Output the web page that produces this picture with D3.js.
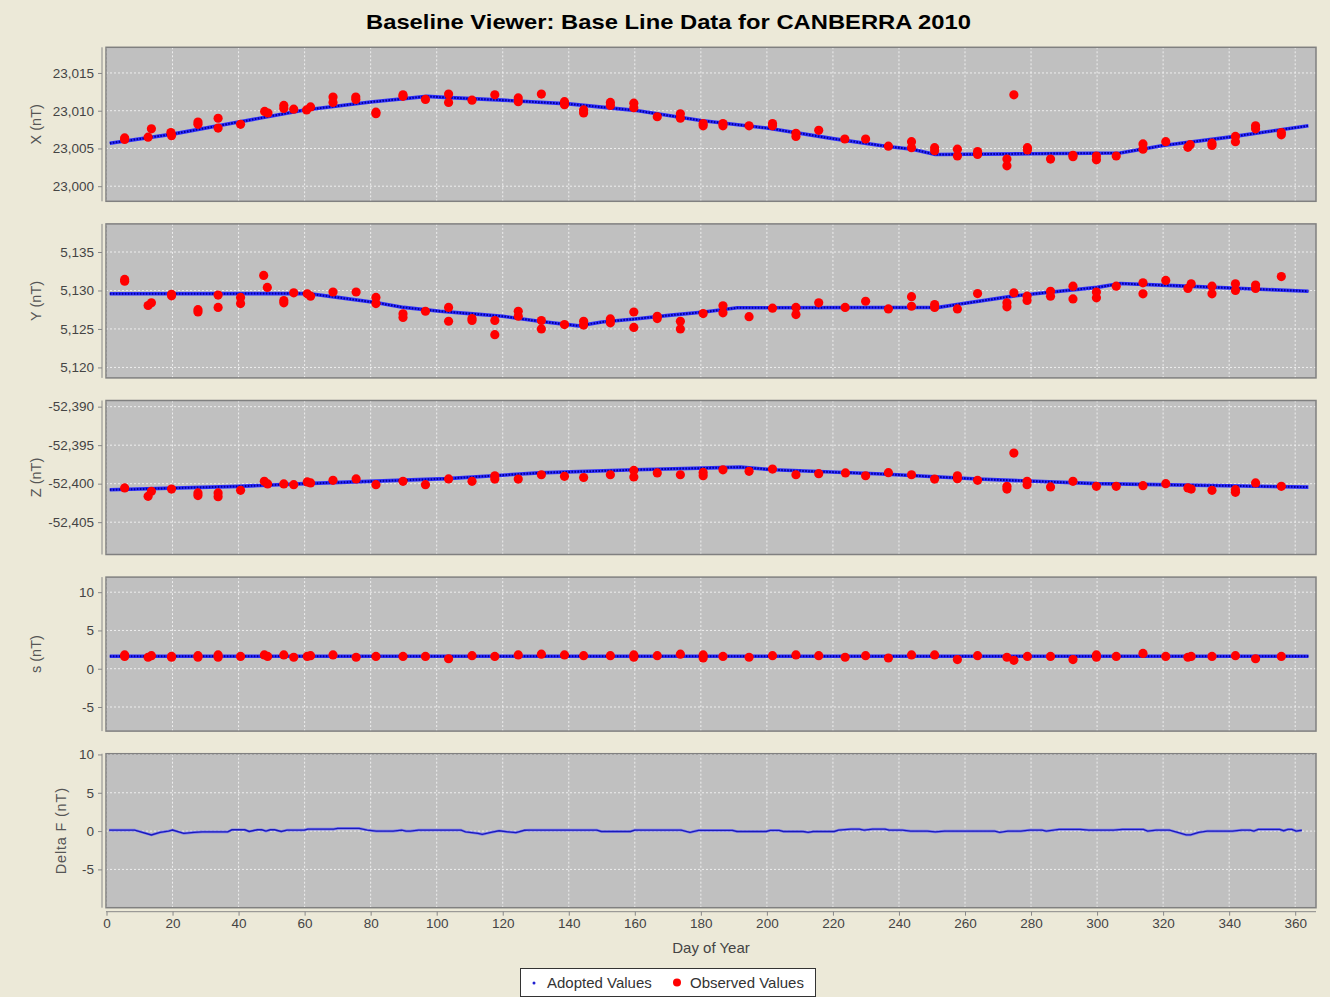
<!DOCTYPE html>
<html>
<head>
<meta charset="utf-8">
<script src="https://cdn.jsdelivr.net/npm/d3@7"></script>
<style>
  html, body { margin: 0; padding: 0; background: #ece9d8; }
  svg { display: block; }
  text { font-family: "Liberation Sans", Arial, sans-serif; }
</style>
</head>
<body>
<svg id="chart" width="1330" height="997"></svg>
<script>
// ---- data: day of year and values ----
const dayTicks = [0, 20, 40, 60, 80, 100, 120, 140, 160, 180, 200, 220, 240, 260, 280, 300, 320, 340, 360];

const panelNames = ["X (nT)", "Y (nT)", "Z (nT)", "s (nT)", "Delta F (nT)"];
const panelDomains = [[22998.0, 23018.4], [5118.64, 5138.65], [-52409.2, -52389.2], [-8.15, 11.97], [-10.0, 10.1]];
const panelTicks = [
  [23000, 23005, 23010, 23015],
  [5120, 5125, 5130, 5135],
  [-52405, -52400, -52395, -52390],
  [-5, 0, 5, 10],
  [-5, 0, 5, 10]
];

// adopted baseline values (day, value)
const adoptedX = [[1, 23005.7], [20, 23006.9], [40, 23008.5], [60, 23010.1], [80, 23011.15], [97, 23011.9], [101, 23011.8], [120, 23011.4], [140, 23010.9], [160, 23010.05], [180, 23008.7], [200, 23007.7], [220, 23006.3], [236, 23005.3], [244, 23004.9], [251, 23004.2], [280, 23004.3], [307, 23004.4], [320, 23005.4], [340, 23006.5], [364, 23008.0]];
const adoptedY = [[1, 5129.57], [61, 5129.6], [70, 5129.1], [82, 5128.4], [90, 5127.8], [101, 5127.3], [111, 5126.96], [120, 5126.65], [131, 5126.0], [143, 5125.4], [150, 5125.9], [160, 5126.3], [171, 5126.8], [181, 5127.2], [191, 5127.75], [252, 5127.8], [258, 5128.2], [275, 5129.3], [300, 5130.4], [307, 5130.9], [325, 5130.6], [364, 5129.9]];
const adoptedZ = [[1, -52400.8], [40, -52400.35], [60, -52400.0], [103, -52399.35], [131, -52398.6], [160, -52398.2], [192, -52397.85], [202, -52398.2], [235, -52398.75], [264, -52399.4], [300, -52400.0], [364, -52400.45]];
const adoptedS = [[1, 1.62], [120, 1.62], [240, 1.62], [364, 1.62]];

// baseline difference in F (day, value)
const deltaF = [[0.8, 0.13], [8.5, 0.13], [13.6, -0.5], [16.2, -0.17], [18.8, 0.0], [20, 0.13], [23.4, -0.3], [26.5, -0.17], [29, -0.1], [36.7, -0.1], [38, 0.17], [41.9, 0.17], [43.2, -0.05], [45.7, 0.17], [47, 0.17], [48.3, 0.0], [49.6, 0.17], [50.9, 0.17], [52.9, -0.05], [54.7, 0.13], [59.9, 0.13], [61, 0.26], [68.8, 0.26], [70, 0.35], [76.5, 0.35], [79, 0.13], [81.7, 0.0], [86.8, 0.0], [89.4, 0.13], [90.7, 0.0], [92, 0.0], [94.5, 0.13], [107.4, 0.13], [108.7, -0.1], [112.5, -0.3], [113.8, -0.43], [116.4, -0.17], [118.9, 0.04], [121.5, -0.1], [124, -0.2], [126.6, 0.1], [128, 0.13], [148.5, 0.13], [149.8, -0.05], [158.7, -0.05], [160, 0.13], [166.5, 0.13], [169, 0.13], [174, 0.13], [176.7, -0.17], [179.3, 0.09], [189.6, 0.09], [190.9, -0.05], [199.8, -0.05], [201, 0.09], [203.7, 0.09], [205, -0.05], [211, -0.05], [212.5, -0.17], [214, -0.05], [220.4, -0.05], [221.7, 0.13], [225.5, 0.26], [228, 0.26], [229.4, 0.13], [232, 0.26], [235.8, 0.26], [237, 0.13], [241, 0.13], [243.5, 0.0], [248.6, 0.0], [251, -0.1], [253.8, 0.0], [269, 0.0], [270.5, -0.17], [273, 0.0], [276.9, 0.0], [279.5, 0.13], [283.3, 0.13], [284.6, 0.0], [288.5, 0.22], [294.9, 0.22], [297.5, 0.13], [305, 0.13], [307.7, 0.22], [314, 0.22], [315.3, 0.0], [317.9, 0.13], [321.9, 0.13], [324.4, -0.17], [327, -0.5], [328.3, -0.5], [330.8, -0.17], [333.4, 0.0], [341, 0.0], [343.7, 0.13], [346.3, 0.13], [347.5, 0.0], [348.8, 0.22], [355.3, 0.22], [356.5, 0.04], [357.8, 0.22], [359, 0.22], [360.3, 0.0], [362, 0.1]];

// observed baseline values (day, value)
const obsX = [[5.5, 23006.4], [5.5, 23006.2], [12.6, 23006.5], [13.6, 23007.6], [19.5, 23007.1], [19.7, 23006.7], [27.7, 23008.5], [27.7, 23008.2], [33.8, 23009.0], [33.8, 23007.7], [40.6, 23008.2], [47.9, 23009.9], [48.9, 23009.7], [53.7, 23010.7], [53.7, 23010.3], [56.7, 23010.2], [60.6, 23010.1], [61.8, 23010.5], [68.6, 23011.8], [68.6, 23011.1], [75.5, 23011.8], [75.5, 23011.5], [81.6, 23009.8], [81.6, 23009.6], [89.8, 23012.1], [89.8, 23011.9], [96.6, 23011.5], [103.6, 23012.2], [103.6, 23011.1], [110.7, 23011.4], [117.6, 23012.1], [124.7, 23011.7], [124.7, 23011.2], [131.7, 23012.2], [138.7, 23011.2], [138.7, 23010.8], [144.5, 23010.1], [144.5, 23009.7], [152.6, 23011.1], [152.6, 23010.7], [159.7, 23011.0], [159.7, 23010.4], [166.8, 23009.2], [173.8, 23009.6], [173.8, 23009.0], [180.7, 23008.3], [180.7, 23008.0], [186.7, 23008.3], [186.7, 23008.0], [194.6, 23008.0], [201.7, 23008.3], [201.7, 23008.0], [208.8, 23007.0], [208.8, 23006.6], [215.7, 23007.4], [223.6, 23006.25], [229.9, 23006.25], [236.8, 23005.3], [243.8, 23005.9], [243.8, 23005.1], [250.8, 23005.1], [250.8, 23004.7], [257.7, 23004.9], [257.7, 23004.0], [263.8, 23004.6], [263.8, 23004.2], [272.7, 23003.6], [272.7, 23002.7], [274.8, 23012.1], [278.9, 23005.1], [278.9, 23004.8], [285.9, 23003.6], [292.7, 23004.1], [292.7, 23003.9], [299.8, 23004.0], [299.8, 23003.5], [305.8, 23004.0], [313.9, 23005.6], [313.9, 23004.9], [320.8, 23005.9], [327.5, 23005.15], [328.2, 23005.5], [334.8, 23005.7], [334.8, 23005.4], [341.9, 23006.6], [341.9, 23005.9], [348.0, 23008.0], [348.0, 23007.6], [355.8, 23007.1], [355.8, 23006.8]];
const obsY = [[5.5, 5131.43], [5.5, 5131.2], [12.6, 5128.05], [13.6, 5128.4], [19.7, 5129.5], [19.7, 5129.3], [27.7, 5127.5], [27.7, 5127.2], [33.8, 5129.4], [33.8, 5127.8], [40.6, 5129.1], [40.6, 5128.3], [47.6, 5131.96], [48.7, 5130.4], [53.7, 5128.7], [53.7, 5128.4], [56.7, 5129.7], [60.8, 5129.57], [61.8, 5129.26], [68.6, 5129.8], [75.6, 5129.8], [81.6, 5129.1], [81.6, 5128.3], [89.8, 5126.96], [89.8, 5126.5], [96.6, 5127.3], [103.6, 5127.8], [103.6, 5126.0], [110.7, 5126.35], [110.7, 5126.1], [117.6, 5126.1], [117.6, 5124.26], [124.7, 5127.3], [124.7, 5126.65], [131.7, 5126.1], [131.7, 5125.0], [138.7, 5125.57], [144.5, 5126.0], [144.5, 5125.5], [152.6, 5126.3], [152.6, 5125.8], [159.7, 5127.2], [159.7, 5125.2], [166.8, 5126.65], [166.8, 5126.35], [173.8, 5126.0], [173.8, 5125.0], [180.7, 5127.0], [186.7, 5128.0], [186.7, 5127.1], [194.6, 5126.6], [201.7, 5127.7], [208.8, 5127.8], [208.8, 5126.87], [215.7, 5128.4], [223.7, 5127.8], [229.9, 5128.6], [236.8, 5127.6], [243.8, 5129.2], [243.8, 5127.95], [250.8, 5128.17], [250.8, 5127.8], [257.7, 5127.6], [263.8, 5129.6], [272.7, 5128.4], [272.7, 5127.87], [274.8, 5129.7], [278.8, 5129.26], [278.8, 5128.7], [285.9, 5129.9], [285.9, 5129.26], [292.7, 5130.56], [292.7, 5128.9], [299.8, 5129.8], [299.8, 5129.05], [305.8, 5130.56], [313.9, 5131.0], [313.9, 5129.57], [320.8, 5131.3], [327.5, 5130.26], [328.5, 5130.87], [334.8, 5130.56], [334.8, 5129.57], [341.9, 5130.87], [341.9, 5130.0], [348.0, 5130.7], [348.0, 5130.26], [355.8, 5131.8]];
const obsZ = [[5.5, -52400.56], [12.6, -52401.64], [13.6, -52401.0], [19.7, -52400.7], [27.7, -52401.2], [27.7, -52401.55], [33.8, -52401.2], [33.8, -52401.7], [40.6, -52400.86], [47.8, -52399.7], [48.8, -52400.04], [53.7, -52400.04], [56.7, -52400.13], [60.8, -52399.78], [61.8, -52399.9], [68.6, -52399.57], [75.6, -52399.39], [81.6, -52400.13], [89.8, -52399.7], [96.6, -52400.13], [103.6, -52399.38], [110.7, -52399.7], [117.6, -52398.97], [117.6, -52399.4], [124.7, -52399.4], [131.7, -52398.84], [138.7, -52399.05], [144.5, -52399.2], [152.6, -52398.84], [159.7, -52398.28], [159.7, -52399.13], [166.8, -52398.6], [173.8, -52398.84], [180.7, -52398.54], [180.7, -52398.97], [186.7, -52398.2], [194.6, -52398.4], [201.7, -52398.1], [208.8, -52398.84], [215.7, -52398.7], [223.8, -52398.6], [229.9, -52398.97], [236.8, -52398.57], [243.8, -52398.84], [250.8, -52399.4], [257.7, -52398.97], [257.7, -52399.35], [263.8, -52399.57], [272.7, -52400.35], [272.7, -52400.7], [274.8, -52396.03], [278.8, -52399.7], [278.8, -52400.13], [285.9, -52400.43], [292.7, -52399.7], [299.8, -52400.35], [305.8, -52400.35], [313.9, -52400.26], [320.8, -52400.0], [327.5, -52400.56], [328.5, -52400.7], [334.8, -52400.86], [341.9, -52400.78], [341.9, -52401.12], [348.0, -52399.9], [355.8, -52400.35]];
const obsS = [[5.5, 1.6], [5.5, 1.8], [12.6, 1.5], [13.6, 1.7], [19.7, 1.6], [19.7, 1.5], [27.7, 1.7], [27.7, 1.5], [33.8, 1.8], [33.8, 1.5], [40.6, 1.6], [47.8, 1.8], [48.8, 1.6], [53.7, 1.8], [56.7, 1.5], [60.8, 1.6], [61.8, 1.7], [68.6, 1.8], [75.6, 1.5], [81.6, 1.6], [89.8, 1.6], [96.6, 1.6], [103.6, 1.3], [110.7, 1.7], [117.6, 1.6], [124.7, 1.8], [131.7, 1.9], [138.7, 1.8], [144.5, 1.7], [152.6, 1.7], [159.7, 1.8], [159.7, 1.5], [166.8, 1.7], [173.8, 1.9], [180.7, 1.8], [180.7, 1.4], [186.7, 1.6], [194.6, 1.5], [201.7, 1.7], [208.8, 1.8], [215.7, 1.7], [223.7, 1.5], [229.9, 1.7], [236.8, 1.4], [243.8, 1.8], [250.8, 1.8], [257.7, 1.2], [263.8, 1.7], [272.7, 1.5], [274.8, 1.1], [278.9, 1.6], [285.9, 1.6], [292.7, 1.2], [299.8, 1.8], [299.8, 1.5], [305.8, 1.6], [313.9, 2.0], [320.8, 1.6], [327.5, 1.5], [328.5, 1.6], [334.8, 1.6], [341.9, 1.7], [348.0, 1.3], [355.8, 1.6]];

const adoptedSeries = [adoptedX, adoptedY, adoptedZ, adoptedS];
const observedSeries = [obsX, obsY, obsZ, obsS];

// ---- layout ----
const svg = d3.select("#chart");
const W = 1330, H = 997;
const plotLeft = 106, plotRight = 1316;
const panelTop0 = 47.3, panelStep = 176.6, panelH = 154;
const fmt = d3.formatLocale({decimal: ".", thousands: ",", grouping: [3], currency: ["", ""], minus: "-"}).format(",");

svg.append("rect").attr("width", W).attr("height", H).attr("fill", "#ece9d8");

const x = d3.scaleLinear().domain([0, 366.3]).range([plotLeft + 0.5, plotRight]);

svg.append("text")
  .attr("x", 366).attr("y", 29)
  .attr("font-size", 21).attr("font-weight", "bold").attr("fill", "#000")
  .attr("textLength", 605).attr("lengthAdjust", "spacingAndGlyphs")
  .text("Baseline Viewer: Base Line Data for CANBERRA 2010");

panelNames.forEach((name, i) => {
  const top = panelTop0 + i * panelStep;
  const bottom = top + panelH;
  const y = d3.scaleLinear().domain(panelDomains[i]).range([bottom, top]);
  const g = svg.append("g");

  // plot background
  g.append("rect")
    .attr("x", plotLeft).attr("y", top)
    .attr("width", plotRight - plotLeft).attr("height", panelH)
    .attr("fill", "#c0c0c0");

  // grid
  const grid = g.append("g").attr("stroke", "#f4f4f4").attr("stroke-width", 1)
    .attr("stroke-dasharray", "2,2").attr("opacity", 0.9);
  grid.selectAll("line.v").data(dayTicks).join("line")
    .attr("x1", d => x(d)).attr("x2", d => x(d))
    .attr("y1", top).attr("y2", bottom);
  grid.selectAll("line.h").data(panelTicks[i]).join("line")
    .attr("x1", plotLeft).attr("x2", plotRight)
    .attr("y1", d => y(d)).attr("y2", d => y(d));

  // left axis
  const axis = d3.axisLeft(y).tickValues(panelTicks[i]).tickFormat(fmt).tickSize(4).tickPadding(4);
  const ag = g.append("g").attr("transform", `translate(${plotLeft - 4},0)`).call(axis);
  ag.select(".domain").attr("d", `M0,${top}V${bottom}`).attr("stroke", "#888").attr("stroke-width", 1);
  ag.selectAll(".tick line").attr("stroke", "#888");
  ag.selectAll(".tick text").attr("fill", "#444").attr("font-size", 13.5)
    .attr("font-family", "'Liberation Sans', Arial, sans-serif");

  // axis title
  g.append("text")
    .attr("transform", `translate(${i === 4 ? 66 : 41},${(top + bottom) / 2}) rotate(-90)`)
    .attr("text-anchor", "middle")
    .attr("font-size", 14.5).attr("fill", "#555")
    .attr("letter-spacing", i === 4 ? 0.8 : 0)
    .text(name);

  const clipId = "clip" + i;
  g.append("clipPath").attr("id", clipId).append("rect")
    .attr("x", plotLeft).attr("y", top).attr("width", plotRight - plotLeft).attr("height", panelH);
  const body = g.append("g").attr("clip-path", `url(#${clipId})`);

  const line = d3.line().x(d => x(d[0])).y(d => y(d[1]));

  if (i < 4) {
    // adopted values: dense blue point trail
    body.append("path").datum(adoptedSeries[i])
      .attr("d", line).attr("fill", "none")
      .attr("stroke", "#2f2fff").attr("stroke-width", 3.6);
    body.append("path").datum(adoptedSeries[i])
      .attr("d", line).attr("fill", "none")
      .attr("stroke", "#000099").attr("stroke-width", 2)
      .attr("stroke-dasharray", "1.6,1.4");
    // observed values
    body.selectAll("circle.obs").data(observedSeries[i]).join("circle")
      .attr("class", "obs")
      .attr("cx", d => x(d[0])).attr("cy", d => y(d[1]))
      .attr("r", 4.6).attr("fill", "#ff0000");
  } else {
    body.append("path").datum(deltaF)
      .attr("d", line).attr("fill", "none")
      .attr("stroke", "#6a6aff").attr("stroke-width", 2.6).attr("opacity", 0.8);
    body.append("path").datum(deltaF)
      .attr("d", line).attr("fill", "none")
      .attr("stroke", "#1a1ab8").attr("stroke-width", 1.4);
  }

  // plot border
  g.append("rect")
    .attr("x", plotLeft).attr("y", top)
    .attr("width", plotRight - plotLeft).attr("height", panelH)
    .attr("fill", "none").attr("stroke", "#808080").attr("stroke-width", 1.5);
});

// bottom axis
const axisY = panelTop0 + 4 * panelStep + panelH + 4;
const xAxis = d3.axisBottom(x).tickValues(dayTicks).tickSize(4).tickPadding(3);
const xg = svg.append("g").attr("transform", `translate(0,${axisY})`).call(xAxis);
xg.select(".domain").attr("d", `M${plotLeft},0H${plotRight}`).attr("stroke", "#888");
xg.selectAll(".tick line").attr("stroke", "#888");
xg.selectAll(".tick text").attr("fill", "#444").attr("font-size", 13.5)
  .attr("font-family", "'Liberation Sans', Arial, sans-serif");

svg.append("text")
  .attr("x", (plotLeft + plotRight) / 2).attr("y", 953)
  .attr("text-anchor", "middle").attr("font-size", 15).attr("fill", "#444")
  .text("Day of Year");

// legend
const lg = svg.append("g");
lg.append("rect").attr("x", 520.5).attr("y", 968.5).attr("width", 295).attr("height", 28)
  .attr("fill", "#fff").attr("stroke", "#333").attr("stroke-width", 1);
lg.append("circle").attr("cx", 534).attr("cy", 983).attr("r", 1.5).attr("fill", "#2020d0");
lg.append("text").attr("x", 547).attr("y", 988).attr("font-size", 15).attr("fill", "#333").text("Adopted Values");
lg.append("circle").attr("cx", 677).attr("cy", 982.5).attr("r", 4).attr("fill", "#ff0000");
lg.append("text").attr("x", 690).attr("y", 988).attr("font-size", 15).attr("fill", "#333").text("Observed Values");
</script>
</body>
</html>
